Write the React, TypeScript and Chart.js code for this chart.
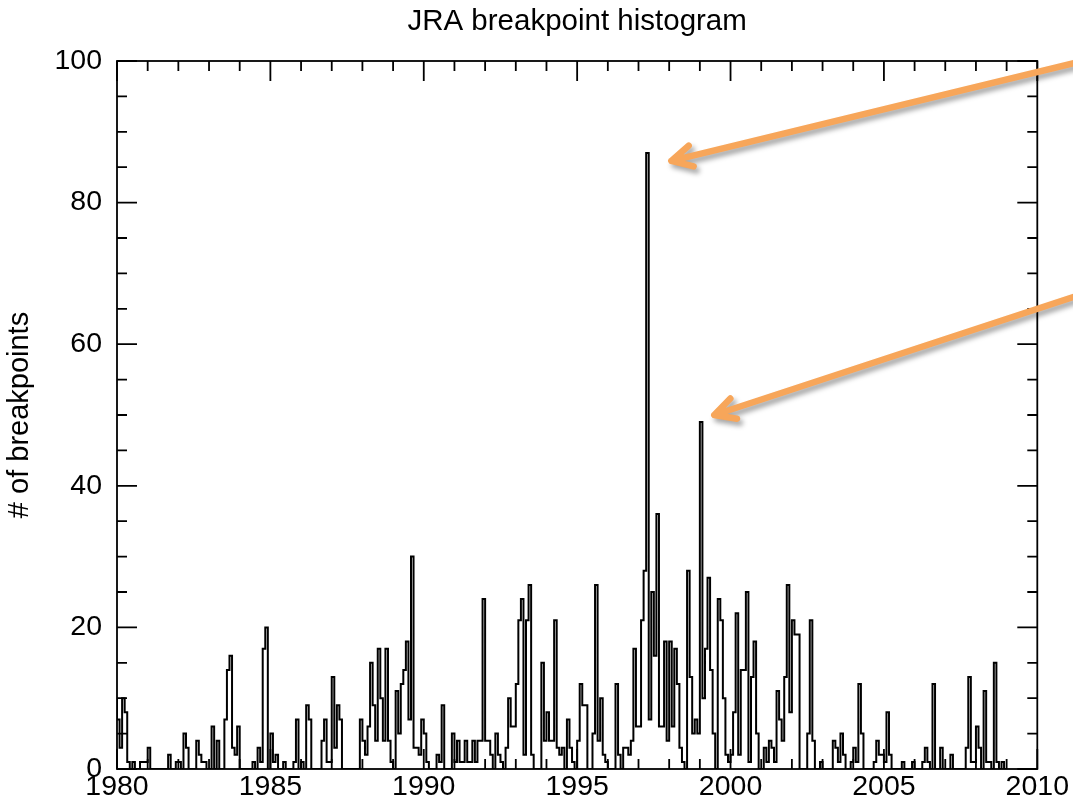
import React, { useEffect, useRef } from "react";
import { Chart, registerables } from "chart.js";

Chart.register(...registerables);

const TITLE = "JRA breakpoint histogram";
const Y_TITLE = "# of breakpoints";
const FONT = "'Liberation Sans', Arial, Helvetica, sans-serif";

const FIRST_YEAR = 1980;
const X_MIN = 1980;
const X_MAX = 2010;
const X_MAJOR = 5;
const X_MINOR = 1;
const Y_MIN = 0;
const Y_MAX = 100;
const Y_MAJOR = 20;
const Y_MINOR = 5;

// monthly breakpoint counts, January 1980 .. December 1989
const counts1980s = [
  10, 7, 3, 10, 8, 1, 0, 1, 0, 0, 1, 1,
  1, 3, 0, 0, 0, 0, 0, 0, 0, 2, 0, 0,
  1, 1, 0, 5, 3, 0, 0, 0, 4, 2, 1, 1,
  0, 0, 6, 0, 4, 0, 0, 7, 14, 16, 3, 2,
  6, 0, 0, 0, 0, 0, 1, 0, 3, 1, 17, 20,
  0, 5, 1, 2, 0, 0, 1, 0, 0, 0, 1, 7,
  0, 1, 0, 9, 7, 0, 0, 0, 0, 4, 7, 1,
  1, 13, 3, 9, 7, 0, 0, 0, 0, 0, 0, 0,
  7, 4, 2, 6, 15, 9, 4, 17, 10, 4, 17, 4,
  1, 0, 11, 5, 12, 14, 18, 7, 30, 3, 3, 2,
];

// monthly breakpoint counts, January 1990 .. December 1999
const counts1990s = [
  7, 5, 1, 0, 0, 0, 2, 1, 9, 0, 0, 0,
  5, 1, 4, 1, 1, 4, 1, 1, 4, 1, 4, 4,
  24, 4, 4, 2, 0, 5, 2, 1, 0, 3, 10, 6,
  6, 12, 21, 24, 2, 21, 26, 2, 0, 0, 0, 15,
  4, 8, 4, 4, 21, 3, 2, 3, 0, 7, 3, 1,
  0, 4, 12, 9, 9, 0, 0, 5, 26, 4, 10, 2,
  1, 0, 0, 0, 12, 2, 0, 3, 3, 2, 4, 17,
  6, 6, 21, 28, 87, 7, 25, 16, 36, 6, 6, 18,
  4, 18, 6, 17, 12, 3, 1, 0, 28, 13, 5, 7,
  5, 49, 10, 17, 27, 14, 5, 0, 24, 21, 10, 2,
];

// monthly breakpoint counts, January 2000 .. December 2008
const counts2000s = [
  1, 2, 8, 22, 2, 14, 14, 25, 1, 13, 18, 5,
  0, 0, 3, 1, 4, 3, 1, 11, 7, 4, 13, 26,
  8, 21, 19, 19, 0, 0, 0, 5, 21, 4, 0, 0,
  1, 0, 0, 0, 0, 4, 3, 1, 5, 2, 0, 0,
  1, 3, 1, 12, 5, 0, 0, 0, 0, 1, 4, 2,
  2, 1, 8, 2, 0, 0, 0, 0, 1, 0, 0, 0,
  1, 0, 0, 0, 1, 3, 1, 0, 12, 0, 0, 3,
  0, 0, 0, 2, 0, 0, 0, 0, 0, 3, 13, 1,
  1, 6, 3, 0, 11, 1, 1, 0, 15, 1, 0, 1,
];

// annotation arrows (data coordinates): tail at right edge, tip near the peaks
const arrowTails = [
  { x: 2011.2, y: 99.7 },
  { x: 2011.2, y: 66.7 },
];
const arrowTips = [
  { x: 1998.07, y: 85.9 },
  { x: 1999.47, y: 50.0 },
];
const ARROW_COLOR = "#F7A65A";

const framePlugin = {
  id: "idlFrame",
  afterDatasetsDraw(chart: any) {
    const { ctx, chartArea, scales } = chart;
    const { left, right, top, bottom } = chartArea;
    const xs = scales.x;
    const ys = scales.y;
    ctx.save();
    ctx.strokeStyle = "#000";
    ctx.lineWidth = 1.8;
    ctx.strokeRect(left, top, right - left, bottom - top);
    ctx.beginPath();
    for (let v = X_MIN; v <= X_MAX; v += X_MINOR) {
      const px = xs.getPixelForValue(v);
      const len = v % X_MAJOR === 0 ? 20 : 10;
      ctx.moveTo(px, bottom);
      ctx.lineTo(px, bottom - len);
      ctx.moveTo(px, top);
      ctx.lineTo(px, top + len);
    }
    for (let v = Y_MIN; v <= Y_MAX; v += Y_MINOR) {
      const py = ys.getPixelForValue(v);
      const len = v % Y_MAJOR === 0 ? 20 : 10;
      ctx.moveTo(left, py);
      ctx.lineTo(left + len, py);
      ctx.moveTo(right, py);
      ctx.lineTo(right - len, py);
    }
    ctx.stroke();
    ctx.restore();
  },
  afterDraw(chart: any) {
    const { ctx, scales } = chart;
    const xs = scales.x;
    const ys = scales.y;
    ctx.save();
    ctx.strokeStyle = ARROW_COLOR;
    ctx.lineWidth = 6.5;
    ctx.lineCap = "round";
    ctx.lineJoin = "round";
    ctx.shadowColor = "rgba(0,0,0,0.35)";
    ctx.shadowBlur = 5;
    ctx.shadowOffsetX = 3;
    ctx.shadowOffsetY = 4;
    for (let i = 0; i < arrowTips.length; i++) {
      const tx = xs.getPixelForValue(arrowTails[i].x);
      const ty = ys.getPixelForValue(arrowTails[i].y);
      const hx = xs.getPixelForValue(arrowTips[i].x);
      const hy = ys.getPixelForValue(arrowTips[i].y);
      const ang = Math.atan2(ty - hy, tx - hx);
      const armLen = 23;
      const spread = 0.48;
      ctx.beginPath();
      ctx.moveTo(tx, ty);
      ctx.lineTo(hx, hy);
      ctx.moveTo(hx + armLen * Math.cos(ang - spread), hy + armLen * Math.sin(ang - spread));
      ctx.lineTo(hx, hy);
      ctx.lineTo(hx + armLen * Math.cos(ang + spread), hy + armLen * Math.sin(ang + spread));
      ctx.stroke();
    }
    ctx.restore();
  },
};

export default function App() {
  const canvasRef = useRef<HTMLCanvasElement | null>(null);

  useEffect(() => {
    document.body.style.margin = "0";
    const canvas = canvasRef.current;
    if (!canvas) return;

    const monthly = [...counts1980s, ...counts1990s, ...counts2000s];
    const points = monthly.map((v, i) => ({ x: FIRST_YEAR + i / 12, y: v }));
    points.push({ x: FIRST_YEAR + monthly.length / 12, y: 0 });

    const tickFont = { family: FONT, size: 28.5, lineHeight: 1 };

    const chart = new Chart(canvas, {
      type: "line",
      data: {
        datasets: [
          {
            data: points,
            stepped: "after",
            borderColor: "#000",
            borderWidth: 2,
            pointRadius: 0,
            fill: false,
          } as any,
        ],
      },
      options: {
        animation: false,
        responsive: false,
        maintainAspectRatio: false,
        layout: { padding: { left: 0, right: 35, top: 0, bottom: 0 } },
        plugins: {
          legend: { display: false },
          tooltip: { enabled: false },
          title: {
            display: true,
            text: TITLE,
            fullSize: false,
            color: "#000",
            font: { family: FONT, size: 29.5, weight: "normal", lineHeight: 1.2 },
            padding: { top: 4, bottom: 21.6 },
          },
        },
        scales: {
          x: {
            type: "linear",
            min: X_MIN,
            max: X_MAX,
            grid: { display: false, drawTicks: false },
            border: { display: false },
            ticks: {
              stepSize: X_MAJOR,
              autoSkip: false,
              maxRotation: 0,
              color: "#000",
              font: tickFont,
              padding: 4,
              callback: (v: any) => String(v),
            },
            afterFit: (s: any) => {
              s.height = 34;
            },
          },
          y: {
            type: "linear",
            min: Y_MIN,
            max: Y_MAX,
            grid: { display: false, drawTicks: false },
            border: { display: false },
            ticks: {
              stepSize: Y_MAJOR,
              color: "#000",
              font: tickFont,
              padding: 15,
              callback: (v: any) => String(v),
            },
            title: {
              display: true,
              text: Y_TITLE,
              color: "#000",
              font: { family: FONT, size: 29, lineHeight: 1.2 },
              padding: { top: 3, bottom: 0 },
            },
            afterFit: (s: any) => {
              s.width = 117;
            },
          },
        },
      } as any,
      plugins: [framePlugin],
    });

    return () => chart.destroy();
  }, []);

  return (
    <div style={{ width: 1073, height: 803, background: "#fff" }}>
      <canvas ref={canvasRef} width={1073} height={803} style={{ display: "block" }} />
    </div>
  );
}
